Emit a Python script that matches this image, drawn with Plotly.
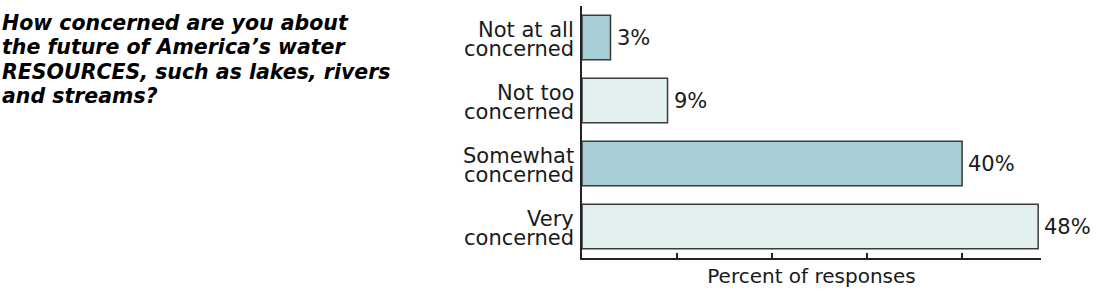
import plotly.graph_objects as go

categories = ["Not at all concerned", "Not too concerned", "Somewhat concerned", "Very concerned"]
label_line1 = ["Not at all", "Not too", "Somewhat", "Very"]
label_line2 = ["concerned", "concerned", "concerned", "concerned"]
values = [3, 9, 40, 48]
value_labels = ["3%", "9%", "40%", "48%"]
colors = ["#a7cdd5", "#e2f0f0", "#a7cdd5", "#e2f0f0"]
tick_vals = [0, 10, 20, 30, 40]
title_lines = [
    "How concerned are you about",
    "the future of America’s water",
    "RESOURCES, such as lakes, rivers",
    "and streams?",
]

FONT = "DejaVu Sans"
TXT = "#1a1a1a"

# plot-area geometry in pixels
L, R, T, B = 582, 59, 6, 39
PW, PH = 1100 - L - R, 297 - T - B

fig = go.Figure()
fig.add_trace(go.Bar(
    x=values, y=categories, orientation="h",
    marker=dict(color=colors, line=dict(color="#3a3a3a", width=1.5)),
    width=0.71,
    hoverinfo="skip",
))

annotations = []
for cat, l1, l2 in zip(categories, label_line1, label_line2):
    annotations.append(dict(x=0, y=cat, xref="x", yref="y", text=l1, showarrow=False,
                            xanchor="right", yanchor="middle", xshift=-6, yshift=8,
                            font=dict(family=FONT, size=21, color=TXT)))
    annotations.append(dict(x=0, y=cat, xref="x", yref="y", text=l2, showarrow=False,
                            xanchor="right", yanchor="middle", xshift=-6, yshift=-11,
                            font=dict(family=FONT, size=21, color=TXT)))
for cat, v, t in zip(categories, values, value_labels):
    annotations.append(dict(x=v, y=cat, xref="x", yref="y", text=t, showarrow=False,
                            xanchor="left", yanchor="middle", xshift=4, yshift=0,
                            font=dict(family=FONT, size=21, color=TXT)))

for i, line in enumerate(title_lines):
    py = 23 + 24.4 * i
    annotations.append(dict(
        x=(0 - L) / PW, y=(PH + T - py) / PH, xref="paper", yref="paper",
        xanchor="left", yanchor="middle", align="left",
        text="<b><i>" + line + "</i></b>", showarrow=False,
        font=dict(family=FONT, size=20.5, color="#000000"),
    ))

fig.update_layout(
    width=1100, height=297,
    margin=dict(l=L, r=R, t=T, b=B),
    paper_bgcolor="white", plot_bgcolor="white",
    showlegend=False,
    annotations=annotations,
    xaxis=dict(
        range=[0, 48.3], tickvals=tick_vals, ticks="inside", ticklen=5, tickwidth=1.5,
        tickcolor="#222", showticklabels=False, showgrid=False, zeroline=False,
        showline=True, linecolor="#222", linewidth=2,
        title=dict(text="Percent of responses", font=dict(family=FONT, size=20, color=TXT), standoff=10),
    ),
    yaxis=dict(
        categoryorder="array", categoryarray=categories, autorange="reversed",
        showticklabels=False, ticks="", showgrid=False, zeroline=False,
        showline=True, linecolor="#222", linewidth=2,
    ),
)

fig.write_html("out.html")
